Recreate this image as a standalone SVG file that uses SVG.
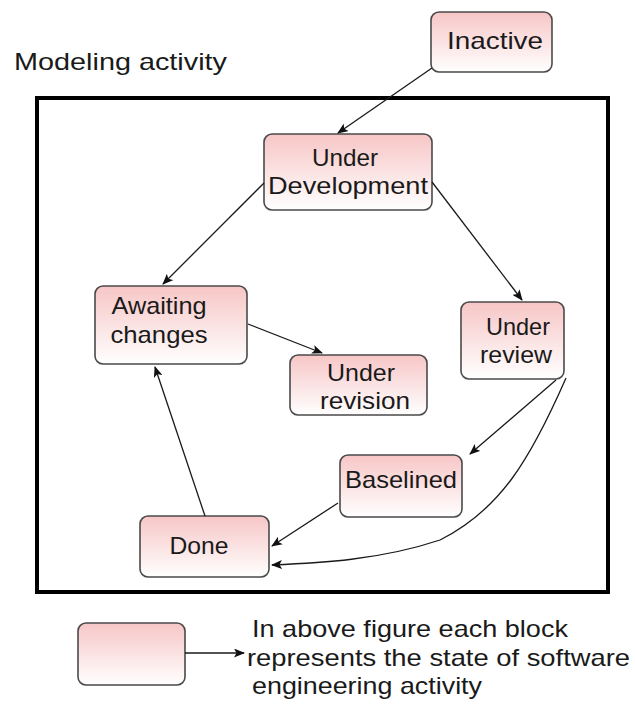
<svg xmlns="http://www.w3.org/2000/svg" width="635" height="709" viewBox="0 0 635 709">
<defs>
<linearGradient id="g" x1="0" y1="0" x2="0" y2="1">
<stop offset="0" stop-color="#f7c6c6"/>
<stop offset="1" stop-color="#ffffff"/>
</linearGradient>
<marker id="ah" markerWidth="11" markerHeight="9" refX="10" refY="4.5" orient="auto" markerUnits="userSpaceOnUse">
<path d="M0,0 L11,4.5 L0,9 L2.5,4.5 Z" fill="#111"/>
</marker>
</defs>
<style>
.n{fill:url(#g);stroke:#4a4a4a;stroke-width:1.6}
.t{font-family:"Liberation Sans",Arial,sans-serif;font-size:24px;fill:#1a1a1a;text-anchor:middle}
.c{fill:none;stroke:#1a1a1a;stroke-width:1.3;marker-end:url(#ah)}
.l{font-family:"Liberation Sans",Arial,sans-serif;font-size:24px;fill:#1a1a1a}
</style>
<rect width="635" height="709" fill="#fff"/>
<text class="l" x="14" y="70" textLength="213" lengthAdjust="spacingAndGlyphs">Modeling activity</text>
<rect x="37" y="98" width="571" height="494" fill="none" stroke="#000" stroke-width="4"/>
<g id="inactive"><rect class="n" x="431" y="12" width="121" height="60" rx="8"/><text class="t" x="495" y="49" textLength="96" lengthAdjust="spacingAndGlyphs">Inactive</text></g>
<g id="underdev"><rect class="n" x="264" y="134" width="168" height="76" rx="8"/><text class="t" x="345" y="166" textLength="66" lengthAdjust="spacingAndGlyphs">Under</text><text class="t" x="348" y="194" textLength="160" lengthAdjust="spacingAndGlyphs">Development</text></g>
<g id="awaiting"><rect class="n" x="95" y="286" width="152" height="78" rx="8"/><text class="t" x="159" y="314" textLength="95" lengthAdjust="spacingAndGlyphs">Awaiting</text><text class="t" x="159" y="343" textLength="97" lengthAdjust="spacingAndGlyphs">changes</text></g>
<g id="revision"><rect class="n" x="290" y="355" width="137" height="60" rx="8"/><text class="t" x="361" y="381" textLength="68" lengthAdjust="spacingAndGlyphs">Under</text><text class="t" x="365" y="409" textLength="90" lengthAdjust="spacingAndGlyphs">revision</text></g>
<g id="review"><rect class="n" x="461" y="302" width="103" height="77" rx="8"/><text class="t" x="518" y="335" textLength="64" lengthAdjust="spacingAndGlyphs">Under</text><text class="t" x="516" y="363" textLength="72" lengthAdjust="spacingAndGlyphs">review</text></g>
<g id="baselined"><rect class="n" x="340" y="455" width="122" height="62" rx="8"/><text class="t" x="401" y="488" textLength="112" lengthAdjust="spacingAndGlyphs">Baselined</text></g>
<g id="done"><rect class="n" x="140" y="516" width="129" height="61" rx="8"/><text class="t" x="199" y="554" textLength="59" lengthAdjust="spacingAndGlyphs">Done</text></g>
<g id="legend"><rect class="n" x="78" y="623" width="107" height="62" rx="8"/>
<text class="l" x="252" y="637" textLength="316" lengthAdjust="spacingAndGlyphs">In above figure each block</text>
<text class="l" x="247" y="666" textLength="383" lengthAdjust="spacingAndGlyphs">represents the state of software</text>
<text class="l" x="252" y="694" textLength="230" lengthAdjust="spacingAndGlyphs">engineering activity</text></g>
<g id="connectors">
<line class="c" x1="432" y1="68" x2="338" y2="133"/>
<line class="c" x1="264" y1="183" x2="163" y2="284"/>
<line class="c" x1="432" y1="182" x2="522" y2="300"/>
<line class="c" x1="248" y1="324" x2="322" y2="353"/>
<line class="c" x1="556" y1="380" x2="470" y2="454"/>
<path class="c" d="M566,378 C530,460 500,510 440,540 C380,560 320,563 272,565"/>
<line class="c" x1="338" y1="503" x2="272" y2="546"/>
<line class="c" x1="205" y1="516" x2="155" y2="367"/>
<line class="c" x1="185" y1="653" x2="244" y2="653"/>
</g>
</svg>
